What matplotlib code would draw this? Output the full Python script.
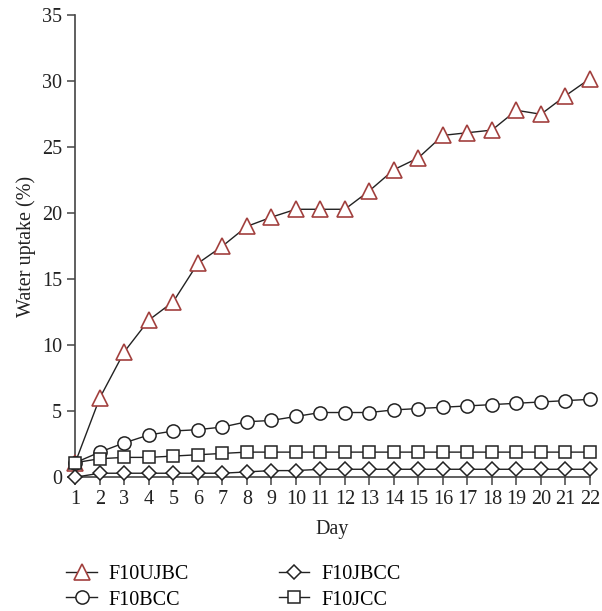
import matplotlib
matplotlib.use("Agg")
import matplotlib.pyplot as plt

days = list(range(1, 23))
f10ujbc = [1.1, 6.0, 9.5, 11.9, 13.3, 16.2, 17.5, 19.0, 19.7, 20.3, 20.3, 20.3,
           21.7, 23.3, 24.2, 25.9, 26.1, 26.3, 27.8, 27.5, 28.9, 30.2]
f10bcc = [1.1, 1.9, 2.6, 3.2, 3.5, 3.6, 3.8, 4.2, 4.3, 4.6, 4.9, 4.9,
          4.9, 5.1, 5.2, 5.3, 5.4, 5.5, 5.6, 5.7, 5.8, 5.9]
f10jbcc = [0.0, 0.3, 0.3, 0.3, 0.3, 0.3, 0.3, 0.4, 0.5, 0.5, 0.6, 0.6,
           0.6, 0.6, 0.6, 0.6, 0.6, 0.6, 0.6, 0.6, 0.6, 0.6]
f10jcc = [1.1, 1.4, 1.5, 1.5, 1.6, 1.7, 1.8, 1.9, 1.9, 1.9, 1.9, 1.9,
          1.9, 1.9, 1.9, 1.9, 1.9, 1.9, 1.9, 1.9, 1.9, 1.9]
yticks = [0, 5, 10, 15, 20, 25, 30, 35]

plt.rcParams['font.family'] = ['Liberation Serif', 'DejaVu Serif']

fig = plt.figure(figsize=(6.02, 6.11), dpi=100)
ax = fig.add_axes([0.125, 0.219, 0.855, 0.756])

red = '#A2403E'
dark = '#222222'
common = dict(lw=1.0, color=dark, clip_on=False, zorder=3)
l1, = ax.plot(days, f10ujbc, marker='^', ms=11, mfc='white', mec=red, mew=1.2, label='F10UJBC', **common)
l2, = ax.plot(days, f10bcc, marker='o', ms=9.5, mfc='white', mec=dark, mew=1.1, label='F10BCC', **common)
l3, = ax.plot(days, f10jbcc, marker='D', ms=7.5, mfc='white', mec=dark, mew=1.1, label='F10JBCC', **common)
l4, = ax.plot(days, f10jcc, marker='s', ms=9, mfc='white', mec=dark, mew=1.1, label='F10JCC', **common)

ax.set_xlim(1, 22)
ax.set_ylim(0, 35)
ax.set_xticks(days)
ax.set_yticks(yticks)
for s in ['top', 'right']:
    ax.spines[s].set_visible(False)
for s in ['left', 'bottom']:
    ax.spines[s].set_color('#444444')
    ax.spines[s].set_linewidth(1.2)
ax.tick_params(axis='both', direction='out', length=6, width=1.1, color='#444444',
               labelsize=14.5, labelcolor='#222222')
ax.tick_params(axis='x', pad=3)
ax.set_xlabel('Day', fontsize=14.5, color='#222222', labelpad=8)
ax.set_ylabel('Water uptake (%)', fontsize=14.5, color='#222222', labelpad=4)

leg = fig.legend(handles=[l1, l2, l3, l4], loc='upper left', bbox_to_anchor=(0.097, 0.088),
                 ncol=2, frameon=False, fontsize=14.5, handlelength=1.5, columnspacing=4.45,
                 labelspacing=0.3, handletextpad=0.6, borderaxespad=0)

fig.savefig('out.png', dpi=100)
